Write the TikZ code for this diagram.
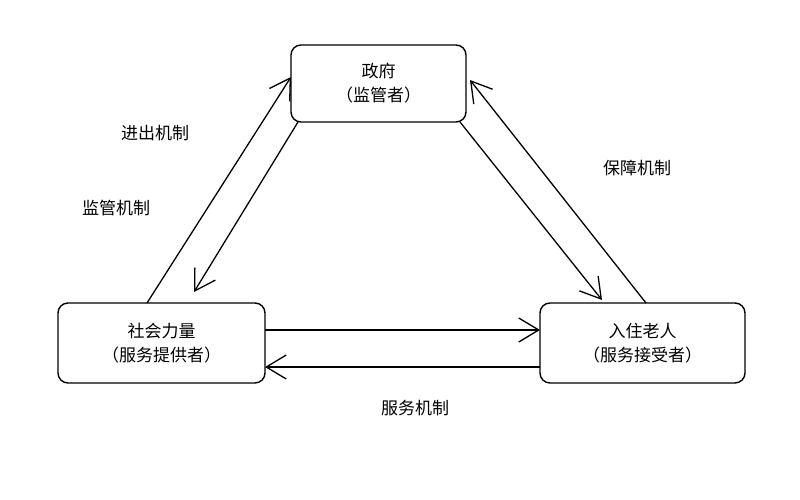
\documentclass[tikz,border=0pt]{standalone}
\usepackage{fontspec}
\setmainfont{Noto Sans CJK SC}
\usetikzlibrary{arrows.meta}
\begin{document}
\begin{tikzpicture}[x=1pt,y=-1pt,
  box/.style={draw,line width=1.4pt,rounded corners=10pt,align=center,font=\fontsize{17}{24}\selectfont},
  lab/.style={font=\fontsize{17}{20}\selectfont},
  arr/.style={line width=1.3pt,-{Straight Barb[length=20pt,width=24pt,line width=1.3pt]}}]
\useasboundingbox (0,0) rectangle (800,500);
\node[box,minimum width=175pt,minimum height=77pt] (g) at (378.5,83.5) {政府\\（监管者）};
\node[box,minimum width=207pt,minimum height=80pt] (s) at (161.5,343) {社会力量\\（服务提供者）};
\node[box,minimum width=205pt,minimum height=80pt] (r) at (642.5,343) {入住老人\\（服务接受者）};
\coordinate (a1) at (147,303); \coordinate (a2) at (291,77);
\coordinate (b1) at (298,122); \coordinate (b2) at (194,292);
\coordinate (c1) at (460,122); \coordinate (c2) at (602,300);
\coordinate (d1) at (646,303); \coordinate (d2) at (470,80);
\coordinate (e1) at (265,330); \coordinate (e2) at (540,330);
\coordinate (f1) at (540,367); \coordinate (f2) at (265,367);
\draw[arr] (a1) -- (a2);
\draw[arr] (b1) -- (b2);
\draw[arr] (c1) -- (c2);
\draw[arr] (d1) -- (d2);
\draw[arr] (e1) -- (e2);
\draw[arr] (f1) -- (f2);
\node[lab] (l1) at (155,133) {进出机制};
\node[lab] (l2) at (116,208) {监管机制};
\node[lab] (l3) at (637,168) {保障机制};
\node[lab] (l4) at (415,408) {服务机制};
\end{tikzpicture}
\end{document}
